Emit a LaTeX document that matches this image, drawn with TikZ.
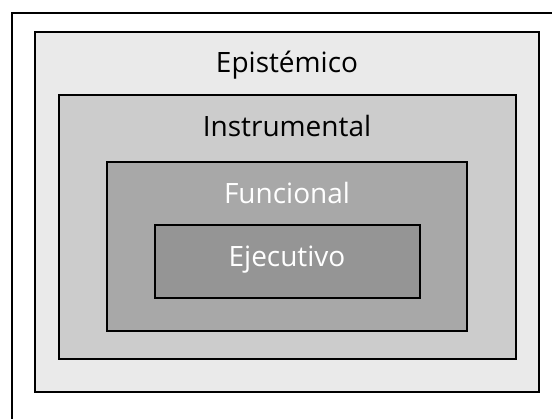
\documentclass[tikz,border=0pt]{standalone}
\usepackage{fontspec}
\setmainfont{Open Sans}
\definecolor{epis}{HTML}{EAEAEA}
\definecolor{instr}{HTML}{CCCCCC}
\definecolor{func}{HTML}{A8A8A8}
\definecolor{ejec}{HTML}{959595}
\begin{document}
\begin{tikzpicture}[x=1pt,y=-1pt,
  layer/.style={draw=black,line width=1.5pt},
  lbl/.style={anchor=base,inner sep=0pt,font=\fontsize{28}{30}\selectfont}]
\useasboundingbox (0,0) rectangle (552,419);
% outer frame (open on right and bottom, as cropped in the reference)
\coordinate (fbl) at (12,419);
\coordinate (ftl) at (12,13);
\coordinate (ftr) at (552,13);
\draw[line width=1.5pt] (fbl) -- (ftl) -- (ftr);
% nested layers
\path[layer,fill=epis]  (35,32)  rectangle (539,392);
\path[layer,fill=instr] (59,95)  rectangle (516,359);
\path[layer,fill=func]  (107,162) rectangle (467,331);
\path[layer,fill=ejec]  (155,225) rectangle (420,298);
% labels
\node[lbl,text=black] (epi) at (287,73) {Epistémico};
\node[lbl,text=black] (ins) at (287,137) {Instrumental};
\node[lbl,text=white] (fun) at (287,204) {Funcional};
\node[lbl,text=white] (eje) at (287,267) {Ejecutivo};
\end{tikzpicture}
\end{document}
